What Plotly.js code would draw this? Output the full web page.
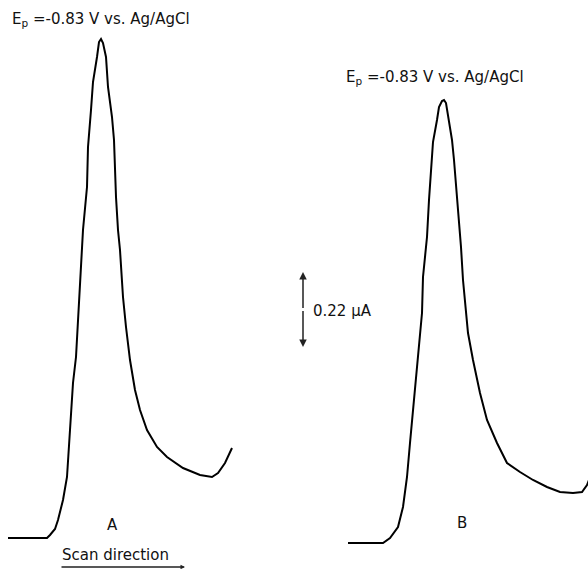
<!DOCTYPE html>
<html>
<head>
<meta charset="utf-8">
<script src="https://cdn.plot.ly/plotly-3.0.1.min.js"></script>
<style>html,body{margin:0;padding:0;background:#fff;}#chart{width:588px;height:569px;}</style>
</head>
<body>
<div id="chart"></div>
<script>
// Scan position (arbitrary units) and current (arbitrary units, 75 units = 0.22 µA)
const scanA = [8,47,50,55,58,63,67,70,73,76,78,80,83,87,88,91,93,97,99,101,103,106,108,112,114,116,118,120,123,126,130,135,140,147,157,167,183,200,212,218,225,232];
const currentA = [31,31,34,40,49,69,92,136,186,212,249,292,339,382,422,459,487,512,527,530,526,512,482,452,429,372,339,319,272,242,209,179,159,139,122,112,101,94,92,96,106,121];
const scanB = [348,383,390,398,403,407,410,413,417,419,422,423,427,429,431,433,437,439,442,444,446,448,452,454,456,458,461,463,465,468,473,480,487,497,507,520,533,547,560,573,582,587,589];
const currentB = [26,26,31,42,62,92,126,159,199,219,256,292,332,369,399,427,449,462,468,469,466,452,429,409,386,362,322,289,269,236,209,176,149,126,106,97,89,82,77,76,77,84,89];

const curveLabels = ["A", "B"];
const peakLabel = "E<sub>p</sub> =-0.83 V vs. Ag/AgCl";
const peakLabelB = "E<sub>p</sub> =-0.83 V vs. Ag/AgCl";
const scaleLabel = "0.22 µA";
const scanLabel = "Scan direction";

const font = {family: "DejaVu Sans", size: 15, color: "#111"};
const lineStyle = {color: "#000", width: 2};

const traces = [
  {x: scanA, y: currentA, mode: "lines", line: lineStyle, hoverinfo: "skip"},
  {x: scanB, y: currentB, mode: "lines", line: lineStyle, hoverinfo: "skip"}
];

const annotations = [
  {x: 10, y: 550, xref: "x", yref: "y", text: peakLabel, showarrow: false, xanchor: "left", yanchor: "middle", font: font},
  {x: 344, y: 492, xref: "x", yref: "y", text: peakLabelB, showarrow: false, xanchor: "left", yanchor: "middle", font: font},
  {x: 112, y: 44, xref: "x", yref: "y", text: curveLabels[0], showarrow: false, font: font},
  {x: 462, y: 46, xref: "x", yref: "y", text: curveLabels[1], showarrow: false, font: font},
  {x: 311, y: 258, xref: "x", yref: "y", text: scaleLabel, showarrow: false, xanchor: "left", yanchor: "middle", font: font},
  {x: 60, y: 14, xref: "x", yref: "y", text: scanLabel, showarrow: false, xanchor: "left", yanchor: "middle", font: font},
  // scale bar (double arrow)
  {x: 303, y: 297, ax: 303, ay: 259.5, xref: "x", yref: "y", axref: "x", ayref: "y", text: "", showarrow: true, arrowhead: 2, arrowsize: 1, arrowwidth: 1.5, arrowcolor: "#222"},
  {x: 303, y: 222, ax: 303, ay: 259.5, xref: "x", yref: "y", axref: "x", ayref: "y", text: "", showarrow: true, arrowhead: 2, arrowsize: 1, arrowwidth: 1.5, arrowcolor: "#222"},
  // scan direction arrow
  {x: 185, y: 2, ax: 60, ay: 2, xref: "x", yref: "y", axref: "x", ayref: "y", text: "", showarrow: true, arrowhead: 2, arrowsize: 0.6, arrowwidth: 1.5, arrowcolor: "#222"}
];

const layout = {
  width: 588, height: 569,
  margin: {l: 0, r: 0, t: 0, b: 0},
  paper_bgcolor: "#fff", plot_bgcolor: "#fff",
  showlegend: false,
  xaxis: {range: [0, 588], visible: false, fixedrange: true},
  yaxis: {range: [0, 569], visible: false, fixedrange: true},
  annotations: annotations
};

Plotly.newPlot("chart", traces, layout, {staticPlot: true, displayModeBar: false});
</script>
</body>
</html>
